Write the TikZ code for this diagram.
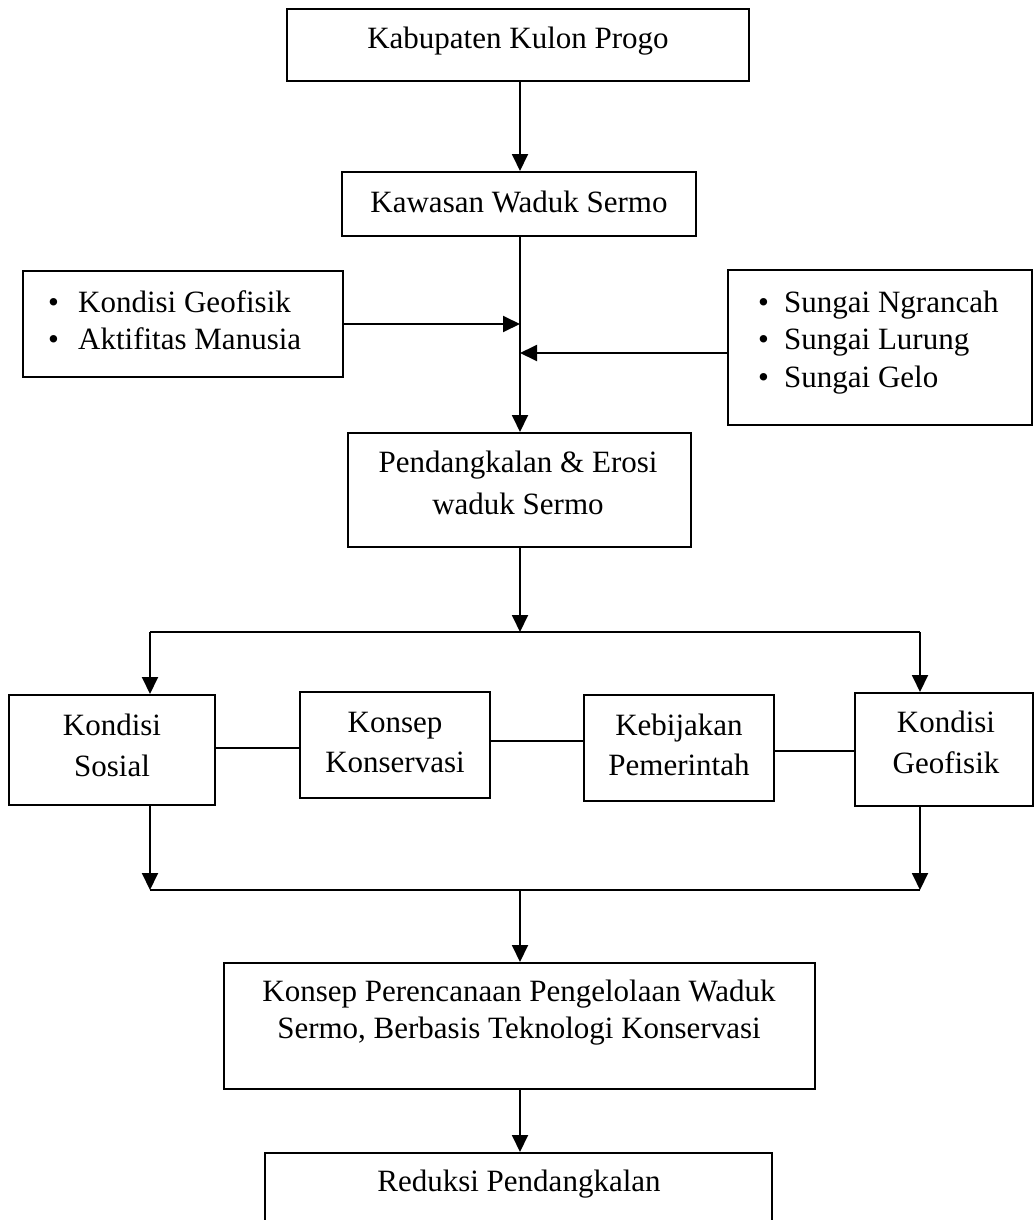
\documentclass[tikz,border=0pt]{standalone}
\usepackage{fontspec}
\setmainfont{Liberation Serif}
\usetikzlibrary{arrows.meta}
\newcommand\bulw[1]{\makebox[#1][l]{•}}
\begin{document}
\begin{tikzpicture}[x=1pt,y=-1pt,
  box/.style={draw,line width=2pt,inner sep=0pt,rectangle},
  txt/.style={font=\fontsize{31pt}{40pt}\selectfont,inner sep=0pt,anchor=base,align=center},
  conn/.style={line width=1.9pt},
  arr/.style={conn,-{Triangle[length=17pt,width=16pt]}}]
\useasboundingbox (0,0) rectangle (1035,1220);
\clip (0,0) rectangle (1035,1220);
\fill[white] (0,0) rectangle (1035,1220);
\coordinate (ax) at (520,0);
% boxes
\node[box,minimum width=462pt,minimum height=72pt] (b1) at (518,45) {};
\node[box,minimum width=354pt,minimum height=64pt] (b2) at (519,204) {};
\node[box,minimum width=320pt,minimum height=106pt] (bl) at (183,324) {};
\node[box,minimum width=304pt,minimum height=155pt] (br) at (880,347.5) {};
\node[box,minimum width=343pt,minimum height=114pt] (b3) at (519.5,490) {};
\node[box,minimum width=206pt,minimum height=110pt] (ks) at (112,750) {};
\node[box,minimum width=190pt,minimum height=106pt] (kk) at (395,745) {};
\node[box,minimum width=190pt,minimum height=106pt] (kp) at (679,748) {};
\node[box,minimum width=178pt,minimum height=113pt] (kg) at (944,749.5) {};
\node[box,minimum width=591pt,minimum height=126pt] (bb) at (519.5,1026) {};
\node[box,minimum width=507pt,minimum height=87pt] (bz) at (518.5,1196.5) {};
% texts (base anchor = baseline of the last line)
\node[txt] (t1) at (518,49) {Kabupaten Kulon Progo};
\node[txt] (t2) at (519,212) {Kawasan Waduk Sermo};
\node[txt,anchor=base west,align=left,font=\fontsize{31pt}{37pt}\selectfont] (tl) at (48,349)
  {\bulw{30pt}Kondisi Geofisik\\\bulw{30pt}Aktifitas Manusia};
\node[txt,anchor=base west,align=left,font=\fontsize{31pt}{37.5pt}\selectfont] (tr) at (758,387)
  {\bulw{26pt}Sungai Ngrancah\\\bulw{26pt}Sungai Lurung\\\bulw{26pt}Sungai Gelo};
\node[txt,font=\fontsize{31pt}{42pt}\selectfont] (t3) at (518,514) {Pendangkalan \& Erosi\\waduk Sermo};
\node[txt,font=\fontsize{31pt}{41pt}\selectfont] (tks) at (112,776) {Kondisi\\Sosial};
\node[txt] (tkk) at (395,772) {Konsep\\Konservasi};
\node[txt] (tkp) at (679,775) {Kebijakan\\Pemerintah};
\node[txt,font=\fontsize{31pt}{41pt}\selectfont] (tkg) at (946,773) {Kondisi\\Geofisik};
\node[txt,font=\fontsize{31pt}{37pt}\selectfont] (tbb) at (519,1038) {Konsep Perencanaan Pengelolaan Waduk\\Sermo, Berbasis Teknologi Konservasi};
\node[txt] (tbz) at (519,1191) {Reduksi Pendangkalan};
% connectors
\coordinate (sL) at (150,632);
\coordinate (sR) at (920,632);
\coordinate (sM) at (520,632);
\coordinate (lL) at (150,890);
\coordinate (lR) at (920,890);
\coordinate (lM) at (520,890);
\coordinate (rin) at ([yshift=-5.5pt]br.west);
\draw[arr] (b1.south -| ax) -- (b2.north -| ax);
\draw[arr] (b2.south -| ax) -- (b3.north -| ax);
\draw[arr] (bl.east) -- (bl.east -| ax);
\draw[arr] (rin) -- (rin -| ax);
\draw[arr] (b3.south -| ax) -- (sM);
\draw[conn] (sL) -- (sR);
\draw[arr] (sL) -- (sL |- ks.north);
\draw[arr] (sR) -- (sR |- kg.north);
\draw[conn] (ks.east |- 0,748) -- (kk.west |- 0,748);
\draw[conn] (kk.east |- 0,741) -- (kp.west |- 0,741);
\draw[conn] (kp.east |- 0,751) -- (kg.west |- 0,751);
\draw[arr] (ks.south -| lL) -- (lL);
\draw[arr] (kg.south -| lR) -- (lR);
\draw[conn] (lL) -- (lR);
\draw[arr] (lM) -- (bb.north -| ax);
\draw[arr] (bb.south -| ax) -- (bz.north -| ax);
\end{tikzpicture}
\end{document}
